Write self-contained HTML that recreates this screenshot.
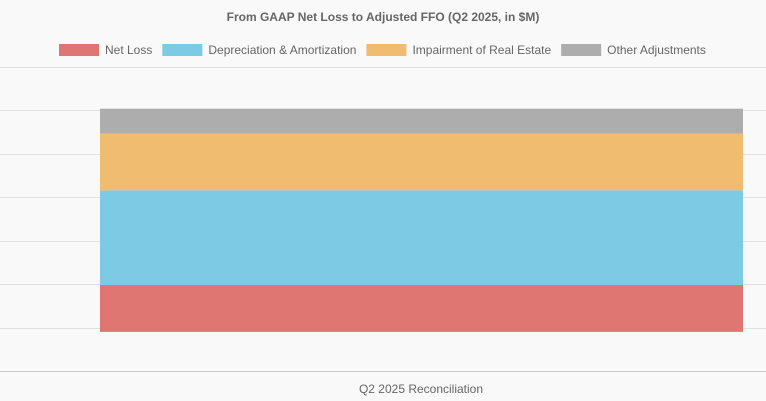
<!DOCTYPE html>
<html><head><meta charset="utf-8"><style>
body{margin:0;background:#f9f9f9;font-family:"Liberation Sans",sans-serif;}
svg{display:block}
</style></head><body>
<svg id="chart" width="766" height="401">
<rect width="766" height="401" fill="#f9f9f9"/>
<text x="383" y="21" text-anchor="middle" font-size="12" font-weight="bold" fill="#666">From GAAP Net Loss to Adjusted FFO (Q2 2025, in $M)</text>
<g id="legend"></g>
<g id="grid"></g>
<g id="bars"></g>
<line x1="0" x2="766" y1="371.5" y2="371.5" stroke="#ccc"/>
<text x="421" y="393" text-anchor="middle" font-size="12" fill="#666">Q2 2025 Reconciliation</text>
</svg>
<script>
const categories = ["Q2 2025 Reconciliation"];
const seriesNames = ["Net Loss","Depreciation & Amortization","Impairment of Real Estate","Other Adjustments"];
const seriesValues = [10.8, 21.8, 13.1, 5.7];
const baseValue = [9];
const gridTicks = [0,10,20,30,40,50,60,70];
const colors = ["#e07672","#7ccae4","#f0bc70","#adadad"];
const NS="http://www.w3.org/2000/svg";
const yMin=0,yMax=70,yBottom=371,yTop=67;
function y(v){return yBottom-(v-yMin)/(yMax-yMin)*(yBottom-yTop);}
const grid=document.getElementById('grid');
gridTicks.forEach((t,i)=>{ if(t===0) return;
  const l=document.createElementNS(NS,'line');
  
  
  l.setAttribute('x1',0);l.setAttribute('x2',766);
  l.setAttribute('y1',Math.round(y(t))+0.5);l.setAttribute('y2',Math.round(y(t))+0.5);
  l.setAttribute('stroke','#e0e0e0');grid.appendChild(l);});
const bars=document.getElementById('bars');
let cum=baseValue[0];
seriesValues.forEach((v,i)=>{
  const r=document.createElementNS(NS,'rect');
  
  
  r.setAttribute('x',100);r.setAttribute('width',643);
  r.setAttribute('y',y(cum+v));r.setAttribute('height',y(cum)-y(cum+v));
  r.setAttribute('fill',colors[i]);bars.appendChild(r);
  cum+=v;});
const legend=document.getElementById('legend');
let lx=59;
seriesNames.forEach((n,i)=>{
  const r=document.createElementNS(NS,'rect');
  
  
  r.setAttribute('x',lx);r.setAttribute('y',44);r.setAttribute('width',40);r.setAttribute('height',12);
  r.setAttribute('fill',colors[i]);legend.appendChild(r);
  const t=document.createElementNS(NS,'text');
  
  
  t.setAttribute('x',lx+46);t.setAttribute('y',54);t.setAttribute('font-size','12');t.setAttribute('fill','#666');
  t.textContent=n;legend.appendChild(t);
  lx+=46+t.getComputedTextLength()+10;});
</script>
</body></html>
